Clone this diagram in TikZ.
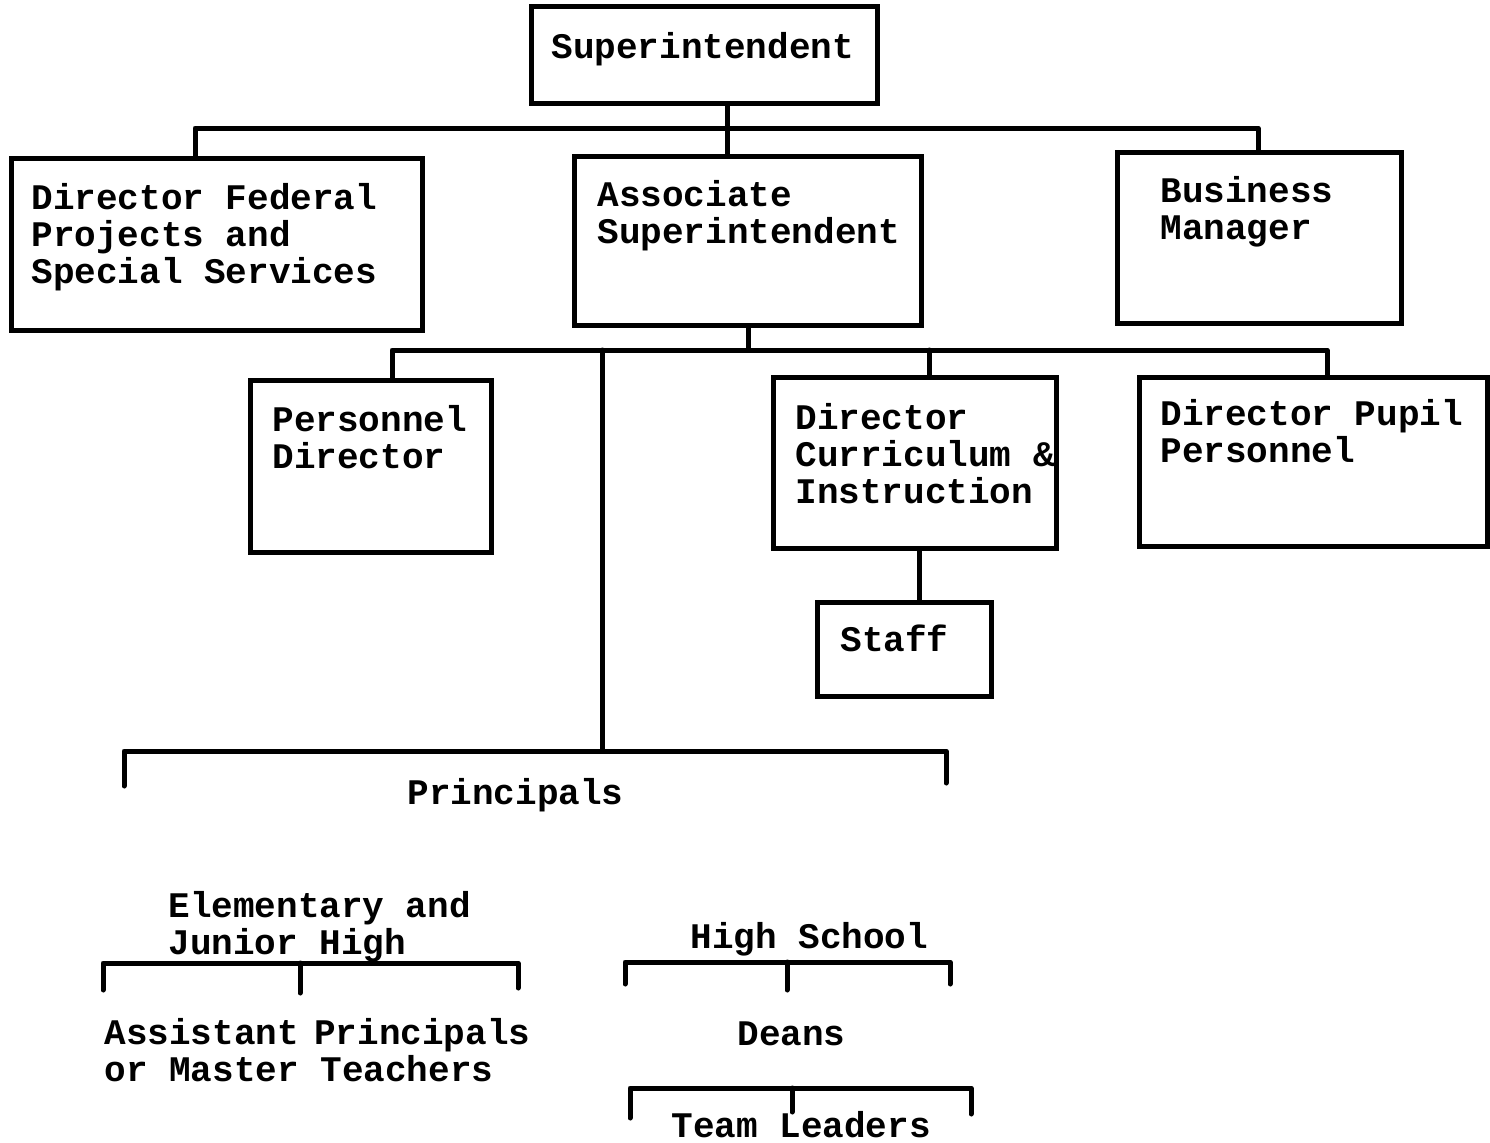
\documentclass[tikz,border=0pt]{standalone}
\usepackage{fontspec}
\setmainfont{Liberation Mono}
\begin{document}
\begin{tikzpicture}[x=0.5pt,y=-0.5pt,
  box/.style={draw,line width=2.5pt,rectangle,inner sep=0pt},
  lbl/.style={anchor=base west,inner sep=0pt,align=left,font=\fontsize{18pt}{18.5pt}\selectfont\bfseries},
  lblc/.style={anchor=base,inner sep=0pt,align=center,font=\fontsize{18pt}{18.5pt}\selectfont\bfseries},
  con/.style={line width=2.5pt,line cap=round,line join=round}]
\useasboundingbox (0,0) rectangle (1490,1142);
% boxes
\node[box,minimum width=173pt,minimum height=48.5pt] (sup) at (704,54.5) {};
\node[box,minimum width=205.5pt,minimum height=86pt] (dfp) at (216.5,244) {};
\node[box,minimum width=173.5pt,minimum height=84.5pt] (assoc) at (747.5,240.5) {};
\node[box,minimum width=142pt,minimum height=85.5pt] (bm) at (1259,237.5) {};
\node[box,minimum width=120.5pt,minimum height=86pt] (pers) at (370.5,466) {};
\node[box,minimum width=141.5pt,minimum height=85.5pt] (dci) at (914.5,462.5) {};
\node[box,minimum width=174pt,minimum height=84.5pt] (dpp) at (1313,461.5) {};
\node[box,minimum width=87pt,minimum height=47pt] (staff) at (904,649) {};
% box texts (anchor = baseline of the last line)
\node[lbl] (tsup) at (551,58) {Superintendent};
\node[lbl] (tdfp) at (31,283) {Director Federal\\Projects and\\Special Services};
\node[lbl] (tassoc) at (597,243) {Associate\\Superintendent};
\node[lbl] (tbm) at (1160,239) {Business\\Manager};
\node[lbl] (tpers) at (272,468) {Personnel\\Director};
\node[lbl] (tdci) at (795,503) {Director\\Curriculum \&\\Instruction};
\node[lbl] (tdpp) at (1160,462) {Director Pupil\\Personnel};
\node[lbl] (tstaff) at (840,651) {Staff};
% free texts
\node[lblc] (prin) at (515.5,804) {Principals};
\node[lbl] (elem) at (168,954) {Elementary and\\Junior High};
\node[lbl] (hs) at (690,948) {High School};
\node[lbl] (asst) at (104,1081) {Assistant\hspace{-3pt} Principals\\or Master Teachers};
\node[lbl] (deans) at (737,1045) {Deans};
\node[lbl] (team) at (671,1137) {Team Leaders};
% top bus
\coordinate (b1) at (727,128);
\coordinate (tl) at (195,128);
\coordinate (tr) at (1258,128);
\draw[con] (sup.south -| b1) -- (b1);
\draw[con] (dfp.north -| tl) -- (tl) -- (tr) -- (bm.north -| tr);
\draw[con] (b1) -- (assoc.north -| b1);
% second bus
\coordinate (b2) at (748,350);
\coordinate (ml) at (392,350);
\coordinate (mr) at (1327,350);
\coordinate (mc) at (929,350);
\coordinate (mp) at (602,350);
\draw[con] (assoc.south -| b2) -- (b2);
\draw[con] (pers.north -| ml) -- (ml) -- (mr) -- (dpp.north -| mr);
\draw[con] (mc) -- (dci.north -| mc);
% staff
\coordinate (sx) at (919,0);
\draw[con] (dci.south -| sx) -- (staff.north -| sx);
% principals bracket
\coordinate (pt) at (602,751);
\coordinate (pl) at (124,751);
\coordinate (pr) at (946,751);
\coordinate (pld) at (124,786);
\coordinate (prd) at (946,783);
\draw[con] (mp) -- (pt);
\draw[con] (pld) -- (pl) -- (pr) -- (prd);
% elementary bracket
\coordinate (el) at (103,963);
\coordinate (em) at (300,963);
\coordinate (er) at (518,963);
\coordinate (eld) at (103,990);
\coordinate (emd) at (300,993);
\coordinate (erd) at (518,988);
\draw[con] (eld) -- (el) -- (er) -- (erd);
\draw[con] (em) -- (emd);
% high school bracket
\coordinate (hl) at (625,962);
\coordinate (hm) at (787,962);
\coordinate (hr) at (950,962);
\coordinate (hld) at (625,984);
\coordinate (hmd) at (787,990);
\coordinate (hrd) at (950,984);
\draw[con] (hld) -- (hl) -- (hr) -- (hrd);
\draw[con] (hm) -- (hmd);
% team leaders bracket
\coordinate (ql) at (630,1088);
\coordinate (qm) at (792,1088);
\coordinate (qr) at (971,1088);
\coordinate (qld) at (630,1118);
\coordinate (qmd) at (792,1112);
\coordinate (qrd) at (971,1114);
\draw[con] (qld) -- (ql) -- (qr) -- (qrd);
\draw[con] (qm) -- (qmd);
\end{tikzpicture}
\end{document}
